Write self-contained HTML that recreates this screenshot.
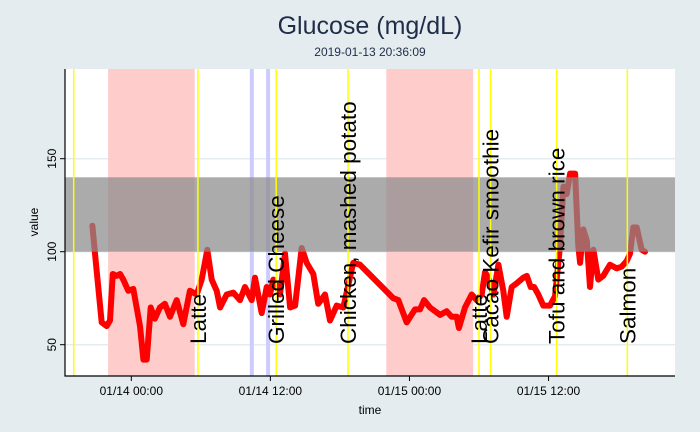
<!DOCTYPE html>
<html><head><meta charset="utf-8"><style>
body{margin:0;background:#e5ecef;}
svg{display:block;font-family:"Liberation Sans",sans-serif;}
</style></head><body>
<svg id="chart" width="700" height="432">
<rect x="0" y="0" width="700" height="432" fill="#e5ecef"/>
<text x="370" y="34" text-anchor="middle" font-size="25" fill="#1f2d48">Glucose (mg/dL)</text>
<text x="370" y="56" text-anchor="middle" font-size="12" fill="#1f2d48">2019-01-13 20:36:09</text>
<text transform="translate(38,222) rotate(-90)" text-anchor="middle" font-size="12" fill="#000">value</text>
<text x="370" y="414" text-anchor="middle" font-size="12" fill="#000">time</text>
<g id="plot"></g>
</svg>
<script>
// hours relative to 01/14 00:00
const times=[-3.36,-3.13,-2.55,-2.12,-1.84,-1.60,-1.26,-0.97,-0.69,-0.26,0.17,0.75,1.04,1.33,1.67,2.04,2.47,2.90,3.34,3.92,4.49,5.06,5.64,6.07,6.56,6.94,7.37,7.66,8.23,8.80,9.38,9.81,10.39,10.67,11.25,11.68,11.97,12.25,12.83,13.26,13.70,14.13,14.70,15.13,15.70,16.13,16.71,17.14,17.72,18.29,19.15,19.73,22.61,23.04,23.76,24.48,24.91,25.26,25.77,26.64,27.21,27.64,28.08,28.27,28.79,29.37,29.80,30.23,30.52,30.80,31.24,31.67,32.10,32.39,32.82,33.25,33.82,34.12,34.46,34.75,35.12,35.55,36.13,36.56,36.99,37.28,37.57,37.86,38.29,38.57,38.72,39.00,39.30,39.58,39.87,40.29,40.72,41.30,41.88,42.31,42.74,43.03,43.31,43.61,44.04,44.32];
const glucose=[114,99,62,60,63,88,87,88,85,79,80,60,42,42,70,64,70,72,65,74,61,79,77,85,101,85,79,70,77,78,74,81,74,86,67,81,77,85,77,99,70,71,102,94,88,72,77,63,71,70,94,93,75,74,62,69,69,74,70,66,68,65,65,59,70,77,74,77,89,86,77,93,79,65,81,83,86,87,81,81,77,71,71,76,103,135,131,142,142,103,94,112,106,81,101,85,87,93,91,92,95,99,113,113,101,100];
const yTicks=[50,100,150];
const xTickHours=[0,12,24,36];
const xTickLabels=["01/14 00:00","01/14 12:00","01/15 00:00","01/15 12:00"];
const mealHours=[-4.97,5.75,12.5,18.7,30.0,31.0,36.7,42.8];
const mealLabels=["","Latte","Grilled Cheese","Chicken, mashed potato","Latte","Cacao Kefir smoothie","Tofu and brown rice","Salmon"];
const sleepStart=[-2.0,22.0];
const sleepEnd=[5.47,29.5];
const exerciseHours=[10.4,11.8];
const targetRange=[100,140];

const L=65,R=675,T=69,B=376;
const xs=h=>131.3+h*11.59;
const ys=v=>251.7-(v-100)*1.86;
const NS="http://www.w3.org/2000/svg";
const g=document.getElementById('plot');
function mk(tag,attrs,parent){const e=document.createElementNS(NS,tag);for(const k in attrs)e.setAttribute(k,attrs[k]);(parent||g).appendChild(e);return e;}

let e=mk('rect',{x:L,y:T,width:R-L,height:B-T,fill:'#fff'});


yTicks.forEach(v=>{
  const l=mk('line',{x1:L,x2:R,y1:ys(v),y2:ys(v),stroke:'#e5ecef','stroke-width':1.5});
  
  
});
sleepStart.forEach((s,i)=>{
  const r=mk('rect',{x:xs(s),y:T,width:xs(sleepEnd[i])-xs(s),height:B-T,fill:'#ffcccc'});
  
  
});
exerciseHours.forEach(h=>{
  const l=mk('line',{x1:xs(h),x2:xs(h),y1:T,y2:B,stroke:'#ccccff','stroke-width':4});
  
  
});
const path=mk('polyline',{points:times.map((t,i)=>xs(t).toFixed(1)+','+ys(glucose[i]).toFixed(1)).join(' '),fill:'none',stroke:'#ff0000','stroke-width':6,'stroke-linejoin':'round','stroke-linecap':'round'});


const band=mk('rect',{x:L,y:ys(targetRange[1]),width:R-L,height:ys(targetRange[0])-ys(targetRange[1]),fill:'rgba(138,138,138,0.72)'});


mealHours.forEach((h,i)=>{
  const l=mk('line',{x1:xs(h),x2:xs(h),y1:T,y2:B,stroke:'#ffff00','stroke-width':1.5});
  
  
  if(mealLabels[i]){
    const t=mk('text',{transform:`translate(${xs(h)+8},344) rotate(-90)`,'font-size':22.5,fill:'#000'});
    t.textContent=mealLabels[i];
    
    
  }
});
const ax=mk('path',{d:`M${L},${T} V${B} H${R}`,stroke:'#000','stroke-width':1.2,fill:'none'});


yTicks.forEach(v=>{
  const t=mk('line',{x1:L-5,x2:L,y1:ys(v),y2:ys(v),stroke:'#000'});
  
  
  const tx=mk('text',{transform:`translate(${L-9},${ys(v)}) rotate(-90)`,'text-anchor':'middle','font-size':12,fill:'#000'});
  tx.textContent=v;
  
  
});
xTickHours.forEach((h,i)=>{
  const t=mk('line',{x1:xs(h),x2:xs(h),y1:B,y2:B+5,stroke:'#000'});
  
  
  const tx=mk('text',{x:xs(h),y:B+19,'text-anchor':'middle','font-size':12,fill:'#000'});
  tx.textContent=xTickLabels[i];
  
  
});
</script>
</body></html>
